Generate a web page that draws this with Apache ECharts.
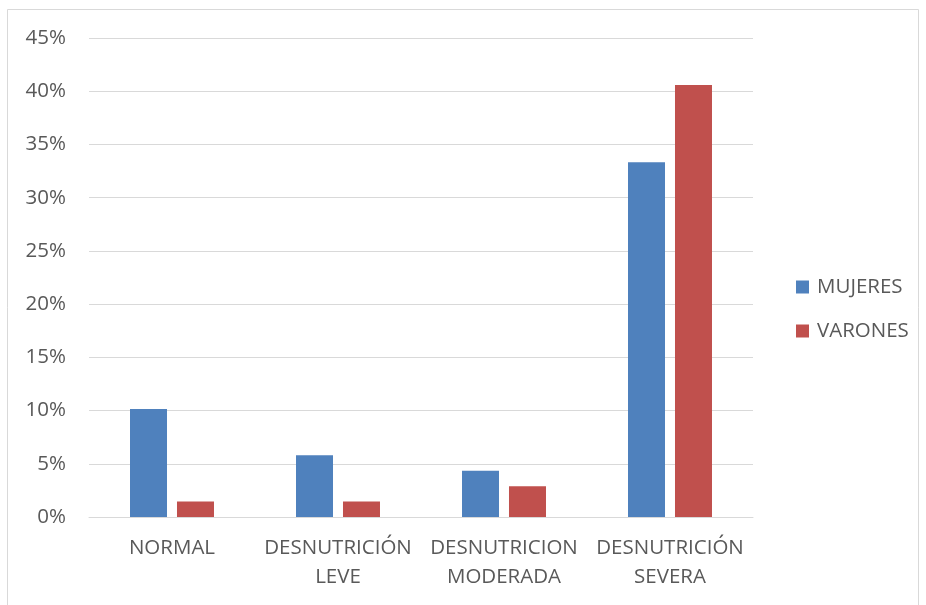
<!DOCTYPE html>
<html>
<head>
<meta charset="utf-8">
<script src="https://cdn.jsdelivr.net/npm/echarts@6/dist/echarts.min.js"></script>
<style>
  html, body { margin: 0; padding: 0; background: #fff; }
  #chart { width: 926px; height: 605px; }
</style>
</head>
<body>
<div id="chart"></div>
<script>
// Estado nutricional por sexo (% del total)
const categories = ['NORMAL', 'DESNUTRICIÓN\nLEVE', 'DESNUTRICION\nMODERADA', 'DESNUTRICIÓN\nSEVERA'];
const mujeres = [10.14, 5.80, 4.35, 33.33];
const varones = [1.45, 1.45, 2.90, 40.58];
const seriesNames = ['MUJERES', 'VARONES'];
const yTicks = { min: 0, max: 45, interval: 5 };

const FONT = '"Open Sans", "Liberation Sans", sans-serif';
const TEXT = '#595959';

const chart = echarts.init(document.getElementById('chart'), null, { renderer: 'canvas' });
chart.setOption({
  animation: false,
  backgroundColor: '#ffffff',
  textStyle: { fontFamily: FONT },
  graphic: [{
    type: 'rect',
    shape: { x: 7.5, y: 9.5, width: 911, height: 610 },
    style: { fill: 'none', stroke: '#d9d9d9', lineWidth: 1 },
    silent: true
  }],
  grid: { left: 89, right: 173, top: 38, bottom: 88 },
  legend: {
    orient: 'vertical',
    left: 791,
    top: 270,
    itemWidth: 13,
    itemHeight: 13,
    itemGap: 20,
    icon: 'rect',
    textStyle: { color: TEXT, fontSize: 20.5, lineHeight: 24, padding: [0, 0, 0, 3], fontFamily: FONT },
    data: seriesNames
  },
  xAxis: {
    type: 'category',
    data: categories,
    axisLine: { lineStyle: { color: '#d9d9d9', width: 1 } },
    axisTick: { show: false },
    axisLabel: { color: TEXT, fontSize: 20.5, lineHeight: 29, margin: 17, interval: 0, fontFamily: FONT }
  },
  yAxis: {
    type: 'value',
    min: yTicks.min,
    max: yTicks.max,
    interval: yTicks.interval,
    axisLine: { show: false },
    axisTick: { show: false },
    splitLine: { lineStyle: { color: '#d9d9d9', width: 1 } },
    axisLabel: { color: TEXT, fontSize: 20.5, margin: 23, formatter: '{value}%', fontFamily: FONT }
  },
  series: [
    {
      name: seriesNames[0],
      type: 'bar',
      data: mujeres,
      barWidth: 37,
      barGap: '27%',
      itemStyle: { color: '#4F81BD' }
    },
    {
      name: seriesNames[1],
      type: 'bar',
      data: varones,
      barWidth: 37,
      barGap: '27%',
      itemStyle: { color: '#C0504D' }
    }
  ]
});
</script>
</body>
</html>
